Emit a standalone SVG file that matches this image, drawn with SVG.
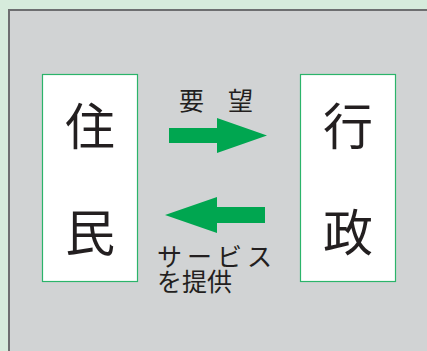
<svg xmlns="http://www.w3.org/2000/svg" width="427" height="351" viewBox="0 0 427 351">
<style>
.box{fill:#ffffff;stroke:#2bb46a;stroke-width:1.2}
.big{font-family:"Noto Sans CJK JP","Noto Sans CJK SC",sans-serif;font-size:50px;fill:#231f20;text-anchor:middle}
.lbl{font-family:"Noto Sans CJK JP","Noto Sans CJK SC",sans-serif;font-size:25px;fill:#231f20}
.arrow{fill:#00a650}
</style>
<rect x="0" y="0" width="427" height="351" fill="#d6ebdc"/>
<rect x="9" y="10" width="430" height="350" fill="#d1d3d4" stroke="#6d6e70" stroke-width="2"/>
<g id="jumin">
<rect class="box" x="42.5" y="74.5" width="95" height="207"/>
<text class="big" x="90" y="145">住</text>
<text class="big" x="90" y="251">民</text>
</g>
<g id="gyosei">
<rect class="box" x="300.5" y="74.5" width="95" height="207"/>
<text class="big" x="348" y="145">行</text>
<text class="big" x="348" y="251">政</text>
</g>
<g id="connectors">
<polygon class="arrow" points="169,128 217,128 217,118 267,135.5 217,153 217,143 169,143"/>
<polygon class="arrow" points="265,207 217,207 217,197 165,215 217,233 217,223 265,223"/>
<text class="lbl" x="179" y="110">要</text>
<text class="lbl" x="228" y="110">望</text>
<text class="lbl" x="157" y="266" letter-spacing="5">サービス</text>
<text class="lbl" x="157" y="291">を提供</text>
</g>
</svg>
